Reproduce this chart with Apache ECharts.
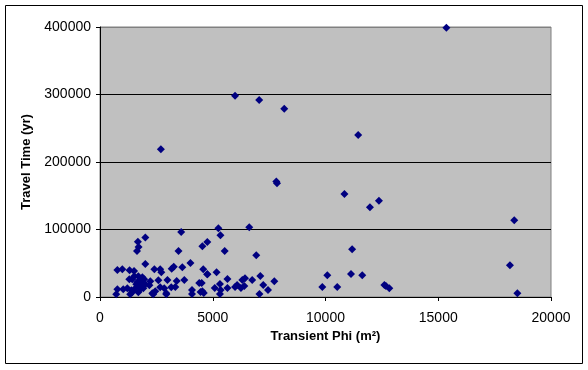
<!DOCTYPE html>
<html>
<head>
<meta charset="utf-8">
<script src="https://cdn.jsdelivr.net/npm/echarts@6/dist/echarts.min.js"></script>
<style>
html,body{margin:0;padding:0;background:#fff;}
#chart{width:588px;height:370px;}
</style>
</head>
<body>
<div id="chart"></div>
<script>
var xTitle = 'Transient Phi (m\u00b2)';
var yTitle = 'Travel Time (yr)';
var xTicks = [0, 5000, 10000, 15000, 20000];
var yTicks = [0, 100000, 200000, 300000, 400000];

var phi = [
  15360, 5990, 7060, 8170, 2700, 11450, 7850, 7820, 10840, 11970, 12370, 18370,
  11180, 10080, 11130, 11630, 9860, 10520, 12610, 12680, 12830, 18180, 18510,
  3600, 5250, 5340, 6620, 1680, 2010, 1640, 1710, 3480, 4540, 4760, 5530, 6930,
  2010, 4010, 770, 990, 1310, 1510, 2410, 2670, 2720, 3180, 3270, 3650, 4580,
  4760, 5170, 5650, 6310, 6430, 6750, 7110, 7240, 7450, 7070, 7730, 5650, 5990,
  6080, 6250, 6400, 4540, 4600, 4400, 4510, 4080, 4080, 3740, 3400, 2990, 3340,
  2850, 2940, 3160, 2590, 2670, 2450, 2320, 2230, 2190, 1960, 1880, 1700, 1520,
  1430, 1300, 1610, 1740, 1570, 1830, 1390, 1210, 1030, 770, 720, 1340, 1430,
  1700, 1920, 2010, 2360, 2940, 1650, 1800, 1750, 1900, 5090, 5320, 5350, 5320,
  4460, 4760
];
var travelTime = [
  399000, 298000, 292000, 279000, 219000, 240000, 168500, 171000, 152500, 133000, 142500, 113800,
  70800, 32200, 34100, 32200, 14800, 14800, 17800, 16300, 12900, 47000, 5500,
  96200, 101900, 91500, 103400, 82000, 88000, 68000, 74000, 68000, 75200, 81600, 68000, 61900,
  49000, 50200, 40000, 41100, 39800, 38500, 41100, 41100, 36600, 42000, 45000, 44000, 41100,
  33700, 36600, 26500, 25200, 27700, 25200, 31000, 17800, 10200, 4500, 23500, 13300, 14800,
  17800, 13300, 16300, 8500, 5900, 20800, 20800, 10400, 4500, 25200, 23700, 25200, 14800,
  12900, 5500, 14400, 24800, 14400, 8500, 5500, 23300, 17400, 26300, 29200, 30700, 30700,
  26300, 26300, 18800, 18800, 12900, 12900, 9900, 12900, 11400, 11400, 4000, 4000, 7000,
  7000, 12900, 18800, 4000, 4000, 22000, 24000, 16000, 20500, 13300, 19300, 10400, 4500,
  7400, 33700
];

var pts = phi.map(function (v, i) { return [v, travelTime[i]]; });
var chart = echarts.init(document.getElementById('chart'), null, {renderer: 'canvas'});
var font = '"Liberation Sans", Arial, sans-serif';
var plain = function (v) { return String(v); };
chart.setOption({
  animation: false,
  backgroundColor: '#ffffff',
  graphic: [{
    type: 'rect', left: 5, top: 5, z: -10,
    shape: {width: 577, height: 358},
    style: {fill: 'transparent', stroke: '#000', lineWidth: 1}
  }],
  grid: {
    left: 100, right: 37, top: 27, bottom: 73,
    show: true, backgroundColor: '#c0c0c0', borderColor: '#808080', borderWidth: 1
  },
  xAxis: {
    type: 'value', min: xTicks[0], max: xTicks[xTicks.length - 1], interval: xTicks[1] - xTicks[0],
    name: xTitle, nameLocation: 'middle', nameGap: 28,
    nameTextStyle: {fontFamily: font, fontSize: 13, fontWeight: 'bold', color: '#000'},
    axisLine: {lineStyle: {color: '#000', width: 1}},
    axisTick: {show: true, inside: false, length: 4, lineStyle: {color: '#000'}},
    axisLabel: {fontFamily: font, fontSize: 14, color: '#000', margin: 14, formatter: plain},
    splitLine: {show: false}
  },
  yAxis: {
    type: 'value', min: yTicks[0], max: yTicks[yTicks.length - 1], interval: yTicks[1] - yTicks[0],
    name: yTitle, nameLocation: 'middle', nameGap: 59, nameRotate: 90,
    nameTextStyle: {fontFamily: font, fontSize: 13, fontWeight: 'bold', color: '#000'},
    axisLine: {show: true, lineStyle: {color: '#000', width: 1}},
    axisTick: {show: true, inside: false, length: 4, lineStyle: {color: '#000'}},
    axisLabel: {fontFamily: font, fontSize: 14, color: '#000', margin: 9, formatter: plain},
    splitLine: {show: true, lineStyle: {color: ['#000', '#000', '#000', '#000', '#808080'], width: 1}}
  },
  series: [{
    type: 'scatter',
    data: pts,
    symbol: 'diamond',
    symbolSize: 8,
    itemStyle: {color: '#000080', opacity: 1}
  }]
});
</script>
</body>
</html>
